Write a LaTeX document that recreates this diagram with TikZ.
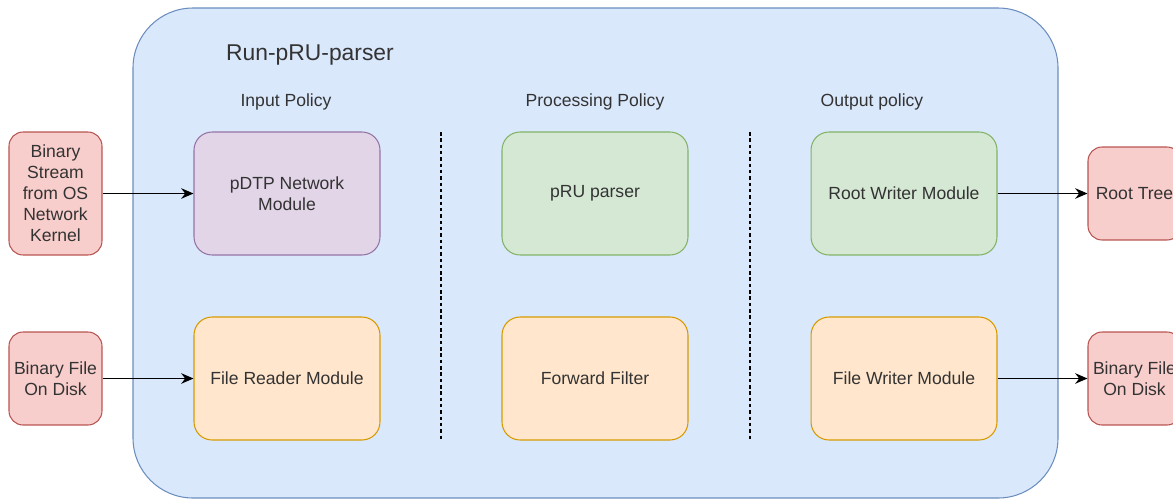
\documentclass[tikz,border=0pt]{standalone}
\usepackage{fontspec}
\setmainfont{Liberation Sans}
\usetikzlibrary{arrows.meta}

\definecolor{frameblue}{HTML}{DAE8FC}
\definecolor{frameline}{HTML}{6C8EBF}
\definecolor{lilac}{HTML}{E1D5E7}
\definecolor{lilacline}{HTML}{9673A6}
\definecolor{mint}{HTML}{D5E8D4}
\definecolor{mintline}{HTML}{82B366}
\definecolor{peach}{HTML}{FFE6CC}
\definecolor{peachline}{HTML}{D79B00}
\definecolor{rose}{HTML}{F8CECC}
\definecolor{roseline}{HTML}{B85450}
\definecolor{inktext}{HTML}{333333}

\tikzset{
  modbox/.style={draw, line width=0.6pt, rounded corners=0.36cm, minimum width=3.72cm, minimum height=2.46cm, align=center, text=inktext, font=\fontsize{10}{12}\selectfont},
  iobox/.style={draw=roseline, fill=rose, line width=0.6pt, rounded corners=0.28cm, minimum width=1.86cm, minimum height=1.86cm, align=center, text=inktext, font=\fontsize{10}{12}\selectfont, inner sep=0pt},
  headtext/.style={text=inktext, font=\fontsize{10}{12}\selectfont},
  flow/.style={-{Stealth[length=7pt,width=6pt]}, line width=0.9pt},
}

\begin{document}
\begin{tikzpicture}[x=0.02cm, y=-0.02cm]
			%%%%% START %%%%%
			\useasboundingbox (0, 0) rectangle (1173, 501);
			\clip (0, 0) rectangle (1173, 501);
			
			% container
			\draw[fill=frameblue, draw=frameline, line width=0.6pt, rounded corners=1.2cm] (133, 8) rectangle (1058, 498);
			\node[text=inktext, font=\fontsize{13}{15}\selectfont] (title) at (310, 55) {Run-pRU-parser};
			
			\node[headtext] (inhead) at (286, 102) {Input Policy};
			\node[headtext] (prochead) at (595, 102) {Processing Policy};
			\node[headtext] (outhead) at (872, 102) {Output policy};
			
			\draw[line width=0.7pt, dash pattern=on 2pt off 1.6pt] (441, 132) -- (441, 440);
			\draw[line width=0.7pt, dash pattern=on 2pt off 1.6pt] (750, 132) -- (750, 440);
			
			% modules
			\node[modbox, fill=lilac, draw=lilacline] (pdtp) at (287, 193.5) {pDTP Network\\Module};
			\node[modbox, fill=peach, draw=peachline] (freader) at (287, 378.5) {File Reader Module};
			\node[modbox, fill=mint, draw=mintline] (parser) at (595, 193.5) {pRU parser};
			\node[modbox, fill=peach, draw=peachline] (filter) at (595, 378.5) {Forward Filter};
			\node[modbox, fill=mint, draw=mintline] (rwriter) at (904, 193.5) {Root Writer Module};
			\node[modbox, fill=peach, draw=peachline] (fwriter) at (904, 378.5) {File Writer Module};
			
			% sources and sinks
			\node[iobox, minimum height=2.46cm] (stream) at (55.5, 193.5) {Binary\\Stream\\from OS\\Network\\Kernel};
			\node[iobox] (diskin) at (55.5, 378.5) {Binary File\\On Disk};
			\node[iobox] (tree) at (1134.5, 193.5) {Root Tree};
			\node[iobox] (diskout) at (1134.5, 378.5) {Binary File\\On Disk};
			
			\draw[flow] (stream) -- (pdtp);
			\draw[flow] (diskin) -- (freader);
			\draw[flow] (rwriter) -- (tree);
			\draw[flow] (fwriter) -- (diskout);
			%%%%% END %%%%%
\end{tikzpicture}
\end{document}
